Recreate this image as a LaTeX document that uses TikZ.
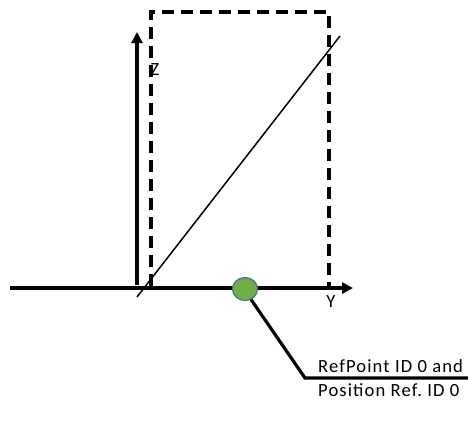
\documentclass[tikz,border=0pt]{standalone}
\usepackage{fontspec}
\setmainfont{Carlito}
\usetikzlibrary{arrows.meta,positioning,shapes.geometric}
\definecolor{ptgreen}{HTML}{70AD47}
\definecolor{ptblue}{HTML}{41719C}

\begin{document}
\begin{tikzpicture}[
  x=1pt,y=-1pt,
  axis/.style={-{Triangle[length=11pt,width=11pt]},line width=3.2pt},
  frame/.style={line width=3.2pt,dash pattern=on 12pt off 7pt},
  refpt/.style={ellipse,draw=ptblue,fill=ptgreen,line width=1.2pt,minimum width=25pt,minimum height=23pt,inner sep=0pt},
  lead/.style={line width=3.2pt},
  lbl/.style={font=\fontsize{18.6}{21}\selectfont\addfontfeature{LetterSpace=6},inner sep=0pt}
]
\useasboundingbox (0,0) rectangle (468,434);
% axes
\coordinate (y0) at (10,288);
\coordinate (y1) at (353,288);
\coordinate (z0) at (137,285);
\coordinate (z1) at (137,32);
\draw[axis] (y0) -- (y1);
\draw[axis] (z0) -- (z1);
\node[lbl] (zlab) at (155,70) {Z};
\node[lbl] (ylab) at (331,302) {Y};
% dashed frame
\coordinate (f0) at (151,286);
\coordinate (f1) at (151,12);
\coordinate (f2) at (329,12);
\coordinate (f3) at (329,286);
\draw[frame] (f0) -- (f1) -- (f2) -- (f3);
% diagonal
\coordinate (d0) at (137,297);
\coordinate (d1) at (340,36);
\draw[line width=1.5pt] (d0) -- (d1);
% reference point
\node[refpt] (ref) at (245,289) {};
\coordinate (k) at (305,378);
\coordinate (e) at (468,378);
\draw[lead] (ref.-60) -- (k) -- (e);
\node[lbl,anchor=south west] (top) at (318,373) {RefPoint ID 0 and};
\node[lbl,anchor=north west] (bot) at (318,383) {Position Ref.~ID 0};
\end{tikzpicture}
\end{document}
